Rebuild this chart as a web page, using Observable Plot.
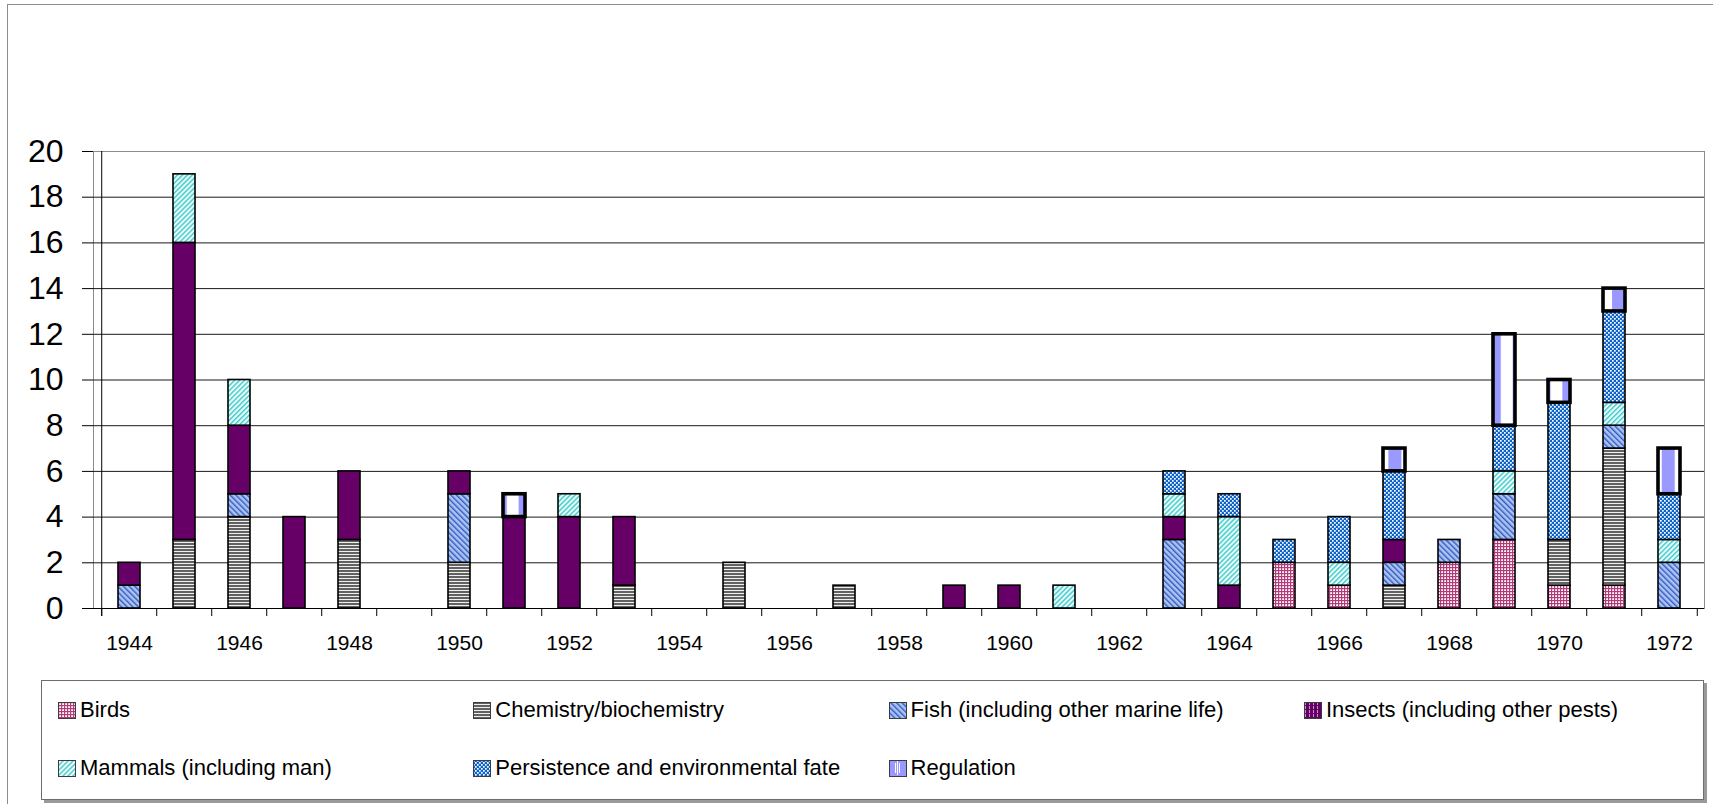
<!DOCTYPE html>
<html><head><meta charset="utf-8">
<script src="https://cdn.jsdelivr.net/npm/d3@7"></script>
<script src="https://cdn.jsdelivr.net/npm/@observablehq/plot@0.6"></script>
<style>
html,body{margin:0;padding:0;overflow:hidden;background:#fff;width:1713px;height:804px;}
#frame{position:absolute;left:7px;top:4px;width:1720px;height:820px;border-left:1px solid #8c8c8c;border-top:1px solid #8c8c8c;}
#chart{position:absolute;left:0;top:0;}
#legend{position:absolute;left:41px;top:680px;width:1661px;height:118px;border:1px solid #6e6e6e;box-shadow:3px 3px 0 #9a9a9a;background:#fff;}
.item{position:absolute;display:flex;align-items:center;font-family:"Liberation Sans",Arial,sans-serif;font-size:22px;color:#000;white-space:nowrap;height:26px;}
.item svg{margin-right:4px;display:block;}
</style></head><body>
<div id="frame"></div><div id="chart"></div><div id="legend"></div>
<script>
// ---- data ----
const years = [1944,1945,1946,1947,1948,1949,1950,1951,1952,1953,1954,1955,1956,1957,1958,1959,1960,1961,1962,1963,1964,1965,1966,1967,1968,1969,1970,1971,1972];
const yearLabels = [1944,1946,1948,1950,1952,1954,1956,1958,1960,1962,1964,1966,1968,1970,1972];
const yTicks = [0,2,4,6,8,10,12,14,16,18,20];
const seriesNames = ["Birds","Chemistry/biochemistry","Fish (including other marine life)","Insects (including other pests)","Mammals (including man)","Persistence and environmental fate","Regulation"];
//                 1944 ........................ 1953 | 1954 ..................... 1963 | 1964 .................. 1972
const birds       = [0,0,0,0,0,0,0,0,0,0,  0,0,0,0,0,0,0,0,0,0,  0,2,1,0,2,3,1,1,0];
const chemistry   = [0,3,4,0,3,0,2,0,0,1,  0,2,0,1,0,0,0,0,0,0,  0,0,0,1,0,0,2,6,0];
const fish        = [1,0,1,0,0,0,3,0,0,0,  0,0,0,0,0,0,0,0,0,3,  0,0,0,1,1,2,0,1,2];
const insects     = [1,13,3,4,3,0,1,4,4,3, 0,0,0,0,0,1,1,0,0,1,  1,0,0,1,0,0,0,0,0];
const mammals     = [0,3,2,0,0,0,0,0,1,0,  0,0,0,0,0,0,0,1,0,1,  3,0,1,0,0,1,0,1,1];
const persistence = [0,0,0,0,0,0,0,0,0,0,  0,0,0,0,0,0,0,0,0,1,  1,1,2,3,0,2,6,4,2];
const regulation  = [0,0,0,0,0,0,0,1,0,0,  0,0,0,0,0,0,0,0,0,0,  0,0,0,1,0,4,1,1,2];
const seriesValues = [birds, chemistry, fish, insects, mammals, persistence, regulation];

const table = [];
years.forEach((yr, i) => seriesNames.forEach((s, k) => {
  const v = seriesValues[k][i];
  if (v > 0) table.push({year: yr, series: s, value: v});
}));

// ---- patterns ----
function addPatterns(defs, p) {
  const mk = (id, w, h, extra) => {
    const pt = defs.append("pattern").attr("id", p + id).attr("patternUnits", "userSpaceOnUse")
      .attr("width", w).attr("height", h);
    if (extra) for (const k in extra) pt.attr(k, extra[k]);
    return pt;
  };
  const r = (pt, x, y, w, h, f) => pt.append("rect").attr("x", x).attr("y", y).attr("width", w).attr("height", h).attr("fill", f);
  let pt = mk("birds", 3, 3); r(pt,0,0,3,3,"#fff"); r(pt,0,0,3,1.2,"#b23a78"); r(pt,0,0,1.2,3,"#b23a78");
  pt = mk("chem", 4, 3); r(pt,0,0,4,3,"#fff"); r(pt,0,0,4,2.1,"#626262");
  pt = mk("fish", 4, 4, {patternTransform: "rotate(-45)"}); r(pt,0,0,4,4,"#aac4f3"); r(pt,0,0,1.4,4,"#3558c0");
  pt = mk("ins", 4, 4); r(pt,0,0,4,4,"#660066");
  if (p === "sw-") { r(pt,1,0,0.8,3,"#e0b0e0"); }
  pt = mk("mam", 3.5, 3.5, {patternTransform: "rotate(45)"}); r(pt,0,0,3.5,3.5,"#effcfc"); r(pt,0,0,1.5,3.5,"#45cdcd");
  pt = mk("pers", 4, 4); r(pt,0,0,4,4,"#0c63c8"); r(pt,0,0,1.7,1.7,"#fff"); r(pt,2,2,1.7,1.7,"#fff");
  if (p === "sw-") {
    pt = mk("reg", 17, 16); r(pt,0,0,17,16,"#9999ff"); r(pt,6,3,1,10,"#fff"); r(pt,8,1,1,14,"#fff"); r(pt,10,3,1,10,"#fff");
  } else {
    pt = mk("reg", 24.85, 10, {x: -3.2}); r(pt,0,0,24.85,10,"#fff"); r(pt,0,0,13,10,"#9999ff");
  }
}
const patKeys = ["birds","chem","fish","ins","mam","pers","reg"];

// ---- layout ----
const W = 1713, H = 670;
const plotLeft = 93, plotRight = 1704, plotTop = 151, plotBottom = 608;
const step = (plotRight - plotLeft) / years.length;
const tickLen = 8 / ((plotBottom - plotTop) / 20);

const chart = Plot.plot({
  width: W, height: H,
  marginLeft: plotLeft, marginRight: W - plotRight, marginTop: plotTop, marginBottom: H - plotBottom,
  style: {fontFamily: "'Liberation Sans', Arial, sans-serif", color: "#000", background: "none", overflow: "visible"},
  x: {domain: years, paddingInner: 0.6, paddingOuter: 0.3, axis: null, label: null},
  y: {domain: [0, 20], axis: null, label: null},
  color: {domain: seriesNames, range: patKeys.map(k => `url(#pt-${k})`)},
  marks: [
    Plot.frame({stroke: "#8c8c8c"}),
    Plot.gridY(yTicks.filter(t => t > 0 && t < 20), {stroke: "#1a1a1a", strokeOpacity: 1}),
    Plot.barY(table, {x: "year", y: "value", fill: "series", order: seriesNames,
      stroke: "#000", strokeWidth: d => d.series === "Regulation" ? 3.6 : 1.6}),
    Plot.ruleY([0], {stroke: "#000"}),
    Plot.ruleX([years[0]], {x: d => d, y1: -tickLen, y2: 20, dx: -step / 2, stroke: "#000"}),
    Plot.ruleX(years, {x: d => d, y1: 0, y2: -tickLen, dx: -step / 2, stroke: "#000"}),
    Plot.ruleX([years[years.length - 1]], {x: d => d, y1: 0, y2: -tickLen, dx: step / 2, stroke: "#000"}),
    Plot.axisY(yTicks, {tickSize: 11, tickPadding: 19, fontSize: 32, stroke: "#000", fill: "#000", label: null}),
    Plot.axisX(yearLabels, {tickSize: 0, tickPadding: 27, fontSize: 21, fill: "#000", label: null, tickFormat: d => String(d)})
  ]
});
addPatterns(d3.select(chart).insert("defs", ":first-child"), "pt-");
document.getElementById("chart").appendChild(chart);

// ---- legend ----
const legendColX0 = 58, legendColStep = 415.3, legendRowY = [697, 755], legendCols = 4;
seriesNames.forEach((name, i) => {
  const col = i % legendCols, row = Math.floor(i / legendCols);
  const item = document.createElement("div");
  item.className = "item";
  item.style.left = (legendColX0 + col * legendColStep) + "px";
  item.style.top = legendRowY[row] + "px";
  const sw = d3.create("svg").attr("width", 18).attr("height", 17);
  addPatterns(sw.append("defs"), "sw-");
  sw.append("rect").attr("x", 0.5).attr("y", 0.5).attr("width", 17).attr("height", 16)
    .attr("fill", `url(#sw-${patKeys[i]})`).attr("stroke", "#3c3c3c");
  item.appendChild(sw.node());
  const t = document.createElement("span");
  t.textContent = name;
  item.appendChild(t);
  document.body.appendChild(item);
});
</script></body></html>
